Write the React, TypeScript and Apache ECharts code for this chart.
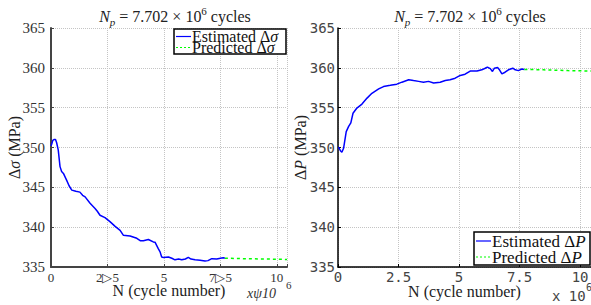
import React, { useEffect, useRef } from "react";
import * as echarts from "echarts";

// ---------- data (N in units of 10^6 cycles, values in MPa) ----------
const leftEstN = [0, 0.03, 0.08, 0.13, 0.2, 0.25, 0.32, 0.4, 0.47, 0.55, 0.69, 0.8, 0.92, 1.1, 1.28, 1.4, 1.51, 1.73, 1.95, 2.05, 2.17, 2.39, 2.61, 2.84, 3.06, 3.2, 3.5, 3.8, 3.95, 4.09, 4.31, 4.53, 4.61, 4.75, 4.83, 4.9, 4.98, 5.2, 5.35, 5.49, 5.65, 5.79, 5.95, 6.08, 6.2, 6.38, 6.6, 6.82, 6.95, 7.12, 7.34, 7.5, 7.63, 7.7];
const leftEst = [350.2, 350.4, 350.9, 351.0, 351.0, 350.6, 349.7, 347.6, 347.0, 346.75, 345.9, 345.2, 344.65, 344.5, 344.4, 344.0, 343.8, 343.0, 342.35, 342.0, 341.5, 341.2, 340.7, 340.1, 339.6, 339.0, 338.9, 338.6, 338.3, 338.3, 338.45, 338.15, 338.1, 337.3, 336.9, 336.26, 336.2, 336.26, 336.1, 335.9, 336.0, 335.9, 336.0, 336.2, 336.0, 335.9, 335.85, 335.75, 335.8, 336.05, 336.0, 336.1, 336.15, 336.1];
const leftPredN = [7.7, 8.5, 9.5, 10.45];
const leftPred = [336.1, 336.05, 336.0, 335.95];

const rightEstN = [0, 0.03, 0.1, 0.16, 0.23, 0.34, 0.44, 0.53, 0.62, 0.78, 0.99, 1.2, 1.4, 1.68, 1.88, 2.16, 2.43, 2.64, 2.92, 3.12, 3.33, 3.53, 3.74, 3.95, 4.22, 4.43, 4.63, 4.84, 5.05, 5.25, 5.46, 5.74, 5.94, 6.08, 6.17, 6.29, 6.38, 6.46, 6.59, 6.67, 6.77, 6.9, 7.04, 7.22, 7.32, 7.45, 7.59, 7.7];
const rightEst = [350.0, 350.0, 349.6, 349.4, 349.9, 352.0, 352.65, 353.1, 354.3, 354.95, 355.45, 356.2, 356.8, 357.35, 357.65, 357.8, 357.95, 358.2, 358.5, 358.4, 358.3, 358.2, 358.3, 358.1, 358.2, 358.4, 358.5, 358.7, 359.05, 359.2, 359.6, 359.6, 359.75, 359.95, 360.1, 359.9, 359.55, 359.95, 360.05, 359.75, 359.25, 359.45, 359.75, 359.95, 359.75, 359.65, 359.85, 359.8];
const rightPredN = [7.7, 8.5, 9.5, 10.45];
const rightPred = [359.8, 359.75, 359.65, 359.6];

const xTicks = [0, 2.5, 5, 7.5, 10];
const leftXTickLabels = ["0", "2\u25B75", "5", "7\u25B75", "10"];
const rightXTickLabels = ["0", "2.5", "5", "7.5", "10"];
const yTicks = [335, 340, 345, 350, 355, 360, 365];
const xMax = 10.45;

const SERIF = "Liberation Serif";
const MONO = "DejaVu Sans Mono";

const zip = (a: number[], b: number[]) => a.map((v, i) => [v, b[i]]);

const base = { fontFamily: SERIF, fontWeight: "normal" as const, color: "#222" };
const titleRich = {
  n: { ...base, fontSize: 16, lineHeight: 22 },
  i: { ...base, fontSize: 16, fontStyle: "italic", lineHeight: 22 },
  sub: { ...base, fontSize: 11, fontStyle: "italic", lineHeight: 12, verticalAlign: "bottom" },
  sup: { ...base, fontSize: 11, lineHeight: 12, verticalAlign: "top" },
};
const titleText = "{i|N}{sub|p}{n| = 7.702 \u00D7 10}{sup|6}{n| cycles}";

export default function App() {
  const ref = useRef<HTMLDivElement>(null);
  useEffect(() => {
    if (!ref.current) return;
    const chart = echarts.init(ref.current, undefined, { renderer: "svg" });
    const gridLine = { show: true, lineStyle: { color: "#c4c4c4", type: "dotted", width: 1 } };
    const mkX = (gridIndex: number, color: string, width: number) => ({
      gridIndex, type: "value", min: 0, max: xMax, interval: 2.5,
      axisLine: { show: true, onZero: false, lineStyle: { color, width } },
      axisTick: { show: true, inside: true, length: 3, lineStyle: { color } },
      axisLabel: { show: false },
      splitLine: gridLine,
    });
    const mkY = (gridIndex: number, color: string, width: number) => ({
      gridIndex, type: "value", min: yTicks[0], max: yTicks[yTicks.length - 1], interval: 5,
      axisLine: { show: true, onZero: false, lineStyle: { color, width } },
      axisTick: { show: true, inside: true, length: 3, lineStyle: { color } },
      axisLabel: { show: false },
      splitLine: gridLine,
    });
    const option: any = {
      animation: false,
      backgroundColor: "#ffffff",
      textStyle: { fontFamily: SERIF },
      title: [
        { text: titleText, left: 170, top: 0, textAlign: "center", textStyle: { fontFamily: SERIF, fontWeight: "normal", rich: titleRich } },
        { text: titleText, left: 465, top: 0, textAlign: "center", textStyle: { fontFamily: SERIF, fontWeight: "normal", rich: titleRich } },
      ],
      grid: [
        { left: 51, top: 28, width: 236, height: 239 },
        { left: 338, top: 28, width: 253, height: 239 },
      ],
      xAxis: [mkX(0, "#444", 2), mkX(1, "#000", 1.5)],
      yAxis: [mkY(0, "#444", 2), mkY(1, "#000", 1.5)],
      series: [
        { name: "Estimated \u0394\u03C3", type: "line", xAxisIndex: 0, yAxisIndex: 0, data: zip(leftEstN, leftEst), showSymbol: false, lineStyle: { color: "#0000ff", width: 1.5 }, itemStyle: { color: "#0000ff" } },
        { name: "Predicted \u0394\u03C3", type: "line", xAxisIndex: 0, yAxisIndex: 0, data: zip(leftPredN, leftPred), showSymbol: false, lineStyle: { color: "#00ff00", width: 1.5, type: [3, 3] }, itemStyle: { color: "#00ff00" } },
        { name: "Estimated \u0394P", type: "line", xAxisIndex: 1, yAxisIndex: 1, data: zip(rightEstN, rightEst), showSymbol: false, lineStyle: { color: "#0000ff", width: 1.5 }, itemStyle: { color: "#0000ff" } },
        { name: "Predicted \u0394P", type: "line", xAxisIndex: 1, yAxisIndex: 1, data: zip(rightPredN, rightPred), showSymbol: false, lineStyle: { color: "#00ff00", width: 1.5, type: [3, 3] }, itemStyle: { color: "#00ff00" } },
      ],
    };
    chart.setOption(option);

    const px = (i: number, v: number) => chart.convertToPixel({ xAxisIndex: i } as any, v) as unknown as number;
    const py = (i: number, v: number) => chart.convertToPixel({ yAxisIndex: i } as any, v) as unknown as number;

    const g: any[] = [];
    const txt = (x: number, y: number, text: string, style: any, extra: any = {}) =>
      g.push({ type: "text", x, y, ...extra, style: { text, ...style } });

    // tick labels
    const leftBottom = py(0, yTicks[0]);
    const rightBottom = py(1, yTicks[0]);
    xTicks.forEach((v, k) => {
      txt(px(0, v), leftBottom + 4, leftXTickLabels[k], { fontFamily: SERIF, fontSize: 13, fill: "#333", align: "center", verticalAlign: "top" });
      txt(px(1, v), rightBottom + 3, rightXTickLabels[k], { fontFamily: MONO, fontSize: 14, fill: "#444", align: "center", verticalAlign: "top" });
    });
    const leftAxisX = px(0, 0);
    const rightAxisX = px(1, 0);
    yTicks.forEach((v) => {
      txt(leftAxisX - 6, py(0, v), String(v), { fontFamily: SERIF, fontSize: 15, fill: "#333", align: "right", verticalAlign: "middle" });
      txt(rightAxisX - 3, py(1, v), String(v), { fontFamily: MONO, fontSize: 14, fill: "#444", align: "right", verticalAlign: "middle" });
    });

    // axis names
    const nameStyle = { fontFamily: SERIF, fontSize: 16, fill: "#222", align: "center", verticalAlign: "middle" };
    txt((px(0, 0) + px(0, xMax)) / 2, leftBottom + 23, "N (cycle number)", nameStyle);
    txt((px(1, 0) + px(1, xMax)) / 2, rightBottom + 24, "N (cycle number)", nameStyle);
    const yMid0 = (py(0, yTicks[0]) + py(0, yTicks[yTicks.length - 1])) / 2;
    const yMid1 = (py(1, yTicks[0]) + py(1, yTicks[yTicks.length - 1])) / 2;
    const yNameRich = (letter: string) => ({
      text: `{d|\u0394}{s|${letter}}{d| (MPa)}`,
      fontFamily: SERIF, fontSize: 16, fill: "#222", align: "center", verticalAlign: "middle",
      rich: {
        d: { fontFamily: SERIF, fontSize: 16, fill: "#222" },
        s: { fontFamily: SERIF, fontSize: 16, fill: "#222", fontStyle: "italic" },
      },
    });
    g.push({ type: "text", x: leftAxisX - 37, y: yMid0, rotation: Math.PI / 2, style: yNameRich("\u03C3") });
    g.push({ type: "text", x: rightAxisX - 38, y: yMid1, rotation: Math.PI / 2, style: yNameRich("P") });

    // exponent labels
    txt(286, leftBottom + 12, "6", { fontFamily: SERIF, fontSize: 11, fill: "#333" });
    txt(247, leftBottom + 19, "x\u03C810", { fontFamily: SERIF, fontSize: 14, fontStyle: "italic", fill: "#333" });
    txt(552, rightBottom + 22, "x 10", { fontFamily: MONO, fontSize: 14, fill: "#444" });
    txt(586, rightBottom + 15, "6", { fontFamily: MONO, fontSize: 10, fill: "#444" });

    // legends
    const legend = (x: number, y: number, w: number, h: number, rows: number[], letter: string, fs: number) => {
      g.push({ type: "rect", z: 100, shape: { x, y, width: w, height: h }, style: { fill: "#fff", stroke: "#000", lineWidth: 1.5 } });
      const names = ["Estimated", "Predicted"];
      const colors = ["#0000ff", "#00ff00"];
      rows.forEach((ry, k) => {
        g.push({ type: "line", z: 101, shape: { x1: x + 2, y1: ry, x2: x + 17, y2: ry }, style: { stroke: colors[k], lineWidth: 1.2, lineDash: k === 1 ? [2, 2] : null } });
        g.push({
          type: "text", z: 101, x: x + 18, y: ry,
          style: {
            text: `{n|${names[k]} \u0394}{l|${letter}}`,
            fontFamily: SERIF, fontSize: fs, verticalAlign: "middle",
            rich: {
              n: { fontFamily: SERIF, fontSize: fs, fill: "#111", lineHeight: 11 },
              l: { fontFamily: SERIF, fontSize: fs, fill: "#111", fontStyle: "italic", lineHeight: 11 },
            },
          },
        });
      });
    };
    legend(174, 29, 112, 25, [36.5, 47.5], "\u03C3", 16);
    legend(474, 232, 116, 33, [241, 257], "P", 17);

    chart.setOption({ graphic: g });
    return () => chart.dispose();
  }, []);
  return <div ref={ref} style={{ position: "absolute", left: 0, top: 0, width: 591, height: 305 }} />;
}
